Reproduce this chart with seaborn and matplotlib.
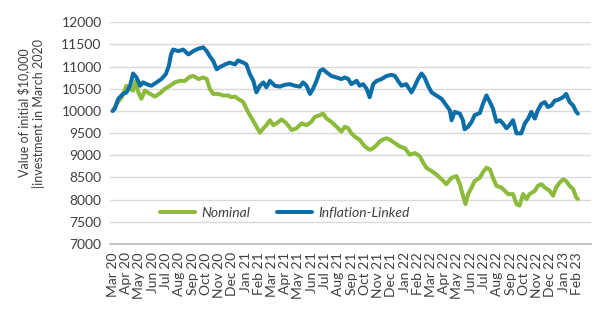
import matplotlib
matplotlib.use("Agg")
import matplotlib.pyplot as plt
import matplotlib.dates as mdates
import seaborn as sns
import pandas as pd

series_names = ["Nominal", "Inflation-Linked"]

nominal_dates = [
    "2020-03-01", "2020-03-10", "2020-03-22", "2020-04-02", "2020-04-10", "2020-04-17",
    "2020-04-23", "2020-04-29", "2020-05-06", "2020-05-14", "2020-05-26", "2020-06-06",
    "2020-06-18", "2020-06-29", "2020-07-11", "2020-07-22", "2020-08-02", "2020-08-14",
    "2020-08-25", "2020-09-02", "2020-09-14", "2020-09-25", "2020-10-03", "2020-10-10",
    "2020-10-18", "2020-10-29", "2020-11-10", "2020-11-21", "2020-11-29", "2020-12-07",
    "2020-12-14", "2020-12-26", "2021-01-02", "2021-01-10", "2021-01-21", "2021-02-02",
    "2021-02-10", "2021-02-17", "2021-02-25", "2021-03-05", "2021-03-12", "2021-03-24",
    "2021-04-04", "2021-04-16", "2021-04-27", "2021-05-09", "2021-05-20", "2021-05-31",
    "2021-06-08", "2021-06-20", "2021-06-27", "2021-07-05", "2021-07-16", "2021-07-28",
    "2021-08-08", "2021-08-16", "2021-08-24", "2021-08-31", "2021-09-08", "2021-09-19",
    "2021-10-01", "2021-10-12", "2021-10-20", "2021-10-28", "2021-11-04", "2021-11-12",
    "2021-11-20", "2021-11-27", "2021-12-09", "2021-12-20", "2022-01-01", "2022-01-12",
    "2022-01-24", "2022-02-04", "2022-02-12", "2022-02-19", "2022-03-03", "2022-03-14",
    "2022-03-26", "2022-04-06", "2022-04-18", "2022-04-29", "2022-05-07", "2022-05-14",
    "2022-05-20", "2022-05-26", "2022-06-03", "2022-06-10", "2022-06-22", "2022-06-29",
    "2022-07-07", "2022-07-15", "2022-07-22", "2022-07-30", "2022-08-10", "2022-08-18",
    "2022-08-26", "2022-09-06", "2022-09-14", "2022-09-21", "2022-09-29", "2022-10-07",
    "2022-10-14", "2022-10-26", "2022-11-02", "2022-11-10", "2022-11-18", "2022-11-29",
    "2022-12-07", "2022-12-14", "2022-12-22", "2022-12-30", "2023-01-06", "2023-01-14",
    "2023-01-22", "2023-01-29", "2023-02-02",
]
nominal_values = [
    10000, 10160, 10310, 10570, 10500, 10460,
    10680, 10420, 10275, 10460, 10385, 10325,
    10400, 10500, 10570, 10645, 10680, 10680,
    10770, 10790, 10720, 10755, 10720, 10500,
    10385, 10385, 10350, 10350, 10310, 10325,
    10275, 10200, 10050, 9905, 9720, 9510,
    9610, 9680, 9790, 9680, 9720, 9810,
    9720, 9570, 9610, 9720, 9680, 9755,
    9865, 9905, 9940, 9830, 9755, 9645,
    9535, 9645, 9610, 9495, 9420, 9350,
    9200, 9125, 9160, 9235, 9310, 9360,
    9385, 9350, 9275, 9200, 9160, 9015,
    9050, 8980, 8830, 8720, 8645, 8570,
    8460, 8350, 8495, 8530, 8350, 8090,
    7900, 8125, 8275, 8420, 8495, 8620,
    8720, 8680, 8495, 8310, 8275, 8200,
    8125, 8125, 7900, 7865, 8125, 8015,
    8125, 8200, 8310, 8350, 8275, 8200,
    8090, 8275, 8385, 8460, 8420, 8310,
    8240, 8050, 8015,
]

linked_dates = [
    "2020-03-01", "2020-03-06", "2020-03-14", "2020-03-25", "2020-04-02", "2020-04-10",
    "2020-04-17", "2020-04-25", "2020-05-03", "2020-05-10", "2020-05-18", "2020-05-29",
    "2020-06-10", "2020-06-21", "2020-07-01", "2020-07-08", "2020-07-13", "2020-07-18",
    "2020-07-30", "2020-08-10", "2020-08-22", "2020-09-02", "2020-09-14", "2020-09-25",
    "2020-10-03", "2020-10-10", "2020-10-18", "2020-10-26", "2020-11-02", "2020-11-14",
    "2020-11-25", "2020-12-07", "2020-12-14", "2020-12-26", "2021-01-02", "2021-01-10",
    "2021-01-18", "2021-01-25", "2021-02-02", "2021-02-10", "2021-02-17", "2021-02-25",
    "2021-03-08", "2021-03-20", "2021-03-31", "2021-04-12", "2021-04-23", "2021-05-05",
    "2021-05-12", "2021-05-20", "2021-05-28", "2021-06-04", "2021-06-12", "2021-06-20",
    "2021-06-27", "2021-07-05", "2021-07-16", "2021-07-28", "2021-08-08", "2021-08-16",
    "2021-08-24", "2021-08-31", "2021-09-12", "2021-09-19", "2021-09-27", "2021-10-05",
    "2021-10-12", "2021-10-20", "2021-10-28", "2021-11-08", "2021-11-20", "2021-12-01",
    "2021-12-09", "2021-12-16", "2021-12-24", "2022-01-04", "2022-01-16", "2022-01-24",
    "2022-01-31", "2022-02-08", "2022-02-15", "2022-02-23", "2022-03-03", "2022-03-14",
    "2022-03-26", "2022-04-06", "2022-04-14", "2022-04-18", "2022-04-25", "2022-05-07",
    "2022-05-14", "2022-05-18", "2022-05-26", "2022-06-03", "2022-06-10", "2022-06-22",
    "2022-06-29", "2022-07-07", "2022-07-15", "2022-07-22", "2022-07-30", "2022-08-07",
    "2022-08-14", "2022-08-22", "2022-08-29", "2022-09-06", "2022-09-14", "2022-09-25",
    "2022-10-03", "2022-10-11", "2022-10-18", "2022-10-26", "2022-11-02", "2022-11-10",
    "2022-11-18", "2022-11-25", "2022-12-03", "2022-12-11", "2022-12-18", "2022-12-30",
    "2023-01-06", "2023-01-14", "2023-01-22", "2023-01-29", "2023-02-02",
]
linked_values = [
    10000, 10050, 10275, 10385, 10420, 10570,
    10845, 10755, 10570, 10645, 10605, 10570,
    10645, 10720, 10830, 11015, 11275, 11385,
    11350, 11385, 11275, 11350, 11405, 11435,
    11350, 11235, 11125, 10940, 10990, 11050,
    11090, 11050, 11140, 11090, 11050, 10830,
    10680, 10420, 10570, 10645, 10535, 10680,
    10570, 10550, 10590, 10605, 10570, 10550,
    10645, 10570, 10385, 10500, 10680, 10905,
    10940, 10870, 10790, 10755, 10720, 10755,
    10720, 10605, 10680, 10570, 10605, 10500,
    10310, 10605, 10680, 10720, 10790, 10815,
    10790, 10680, 10570, 10605, 10420, 10570,
    10720, 10845, 10755, 10570, 10420, 10350,
    10275, 10125, 10015, 9790, 9980, 9940,
    9790, 9585, 9645, 9755, 9905, 9955,
    10160, 10350, 10200, 10050, 9755, 9790,
    9720, 9610, 9680, 9790, 9495, 9495,
    9720, 9830, 9980, 9830, 10015, 10160,
    10200, 10090, 10125, 10235, 10250, 10310,
    10385, 10200, 10125, 9980, 9940,
]

y_ticks = [7000, 7500, 8000, 8500, 9000, 9500, 10000, 10500, 11000, 11500, 12000]
first_month, last_month = "2020-03-01", "2023-02-01"
y_label = "Value of initial $10,000\n|investment in March 2020"

colors = {"Nominal": "#8cbb3c", "Inflation-Linked": "#0b6ea9"}
text_color = "#404040"

df = pd.concat([
    pd.DataFrame({"date": pd.to_datetime(nominal_dates), "value": nominal_values, "series": series_names[0]}),
    pd.DataFrame({"date": pd.to_datetime(linked_dates), "value": linked_values, "series": series_names[1]}),
], ignore_index=True)

sns.set_theme(style="white")
plt.rcParams["font.family"] = ["Lato", "DejaVu Sans"]

fig = plt.figure(figsize=(6, 3.24), dpi=100)
ax = fig.add_axes([110 / 600, 80 / 324, 481 / 600, 221.7 / 324])

sns.lineplot(data=df, x="date", y="value", hue="series", hue_order=series_names,
             palette=colors, linewidth=2.9, legend=False, ax=ax, estimator=None)

ax.set_ylim(7000, 12000)
ax.set_xlim(pd.Timestamp("2020-02-24"), pd.Timestamp("2023-03-04"))
ax.set_yticks(y_ticks)
ax.set_yticklabels([str(v) for v in y_ticks], fontsize=10, color=text_color)
months = pd.date_range(first_month, last_month, freq="MS")
ax.set_xticks(months)
ax.set_xticklabels([m.strftime("%b %y") for m in months], rotation=90,
                   fontsize=10, color=text_color)
ax.tick_params(axis="both", length=0)
ax.tick_params(axis="x", pad=6)
ax.tick_params(axis="y", pad=6)

ax.grid(axis="y", color="#d9d9d9", linewidth=1.0)
ax.grid(axis="x", visible=False)
ax.set_axisbelow(True)
for side in ["left", "right", "top"]:
    ax.spines[side].set_visible(False)
ax.spines["bottom"].set_color("#bfbfbf")
ax.spines["bottom"].set_linewidth(1.3)

ax.set_xlabel("")
ax.set_ylabel("")
fig.text(31 / 600, 1 - 113 / 324, y_label, rotation=90, ha="center", va="center",
         multialignment="center", fontsize=9, color=text_color)

leg = ax.legend(ax.get_lines()[:2], series_names, loc="center", bbox_to_anchor=(0.364, 0.14),
                ncol=2, frameon=False, handlelength=2.5, handletextpad=0.5,
                columnspacing=1.9, prop={"style": "italic", "size": 10})
for t in leg.get_texts():
    t.set_color(text_color)

fig.savefig("out.png", dpi=100)
